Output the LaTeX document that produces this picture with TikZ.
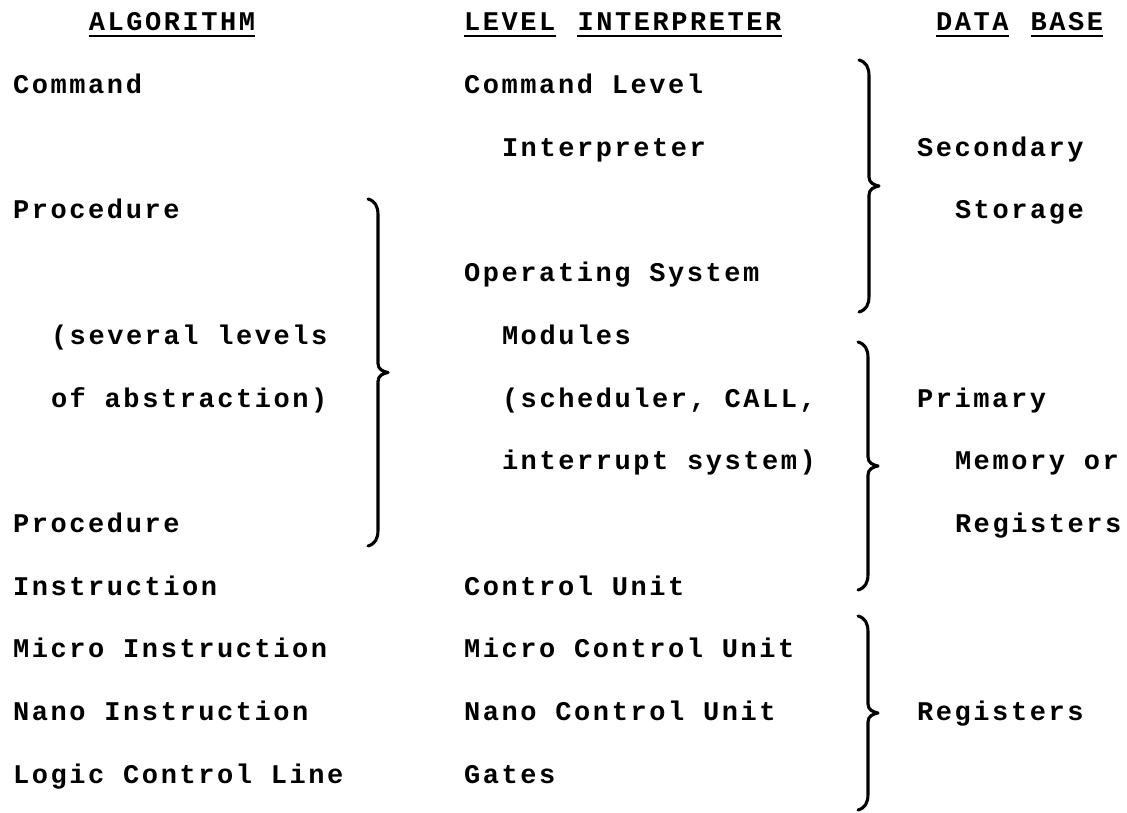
\documentclass[tikz,border=0pt]{standalone}
\usepackage{fontspec}
\newfontfamily\typer[LetterSpace=9.5]{Liberation Mono}

% curly brace opening to the left, tip pointing right
% #1 = x of the stem, #2 = top y, #3 = bottom y (y grows downward)
\newcommand\twbrace[3]{%
  \pgfmathsetmacro\bmid{(#2+#3)/2}%
  \draw[brc] ({#1-10},#2) .. controls ({#1-3},{#2+2}) and (#1,{#2+7}) .. (#1,{#2+16})
    -- (#1,{\bmid-9}) .. controls (#1,{\bmid-3}) and ({#1+5},{\bmid-1}) .. ({#1+10},\bmid)
    .. controls ({#1+5},{\bmid+1}) and (#1,{\bmid+3}) .. (#1,{\bmid+9})
    -- (#1,{#3-16}) .. controls (#1,{#3-7}) and ({#1-3},{#3-2}) .. ({#1-10},#3);%
}

\begin{document}
\begin{tikzpicture}[x=1pt,y=-1pt,
  txt/.style={anchor=base west, inner sep=0pt,
    font=\typer\bfseries\fontsize{27}{32}\selectfont},
  uline/.style={line width=2.4pt},
  brc/.style={line width=3.1pt, line cap=round, line join=round}]

\useasboundingbox[fill=white] (0,0) rectangle (1127,813);

% column headings
\node[txt] (hAlg) at (88.6,31)  {ALGORITHM};
\node[txt] (hLev) at (464,31)   {LEVEL};
\node[txt] (hInt) at (577.4,31) {INTERPRETER};
\node[txt] (hDat) at (936,31)   {DATA};
\node[txt] (hBas) at (1030.5,31){BASE};
\foreach \h in {hAlg,hLev,hInt,hDat,hBas}
  \draw[uline] ([yshift=-5pt]\h.base west) -- ([yshift=-5pt]\h.base east);

% algorithm column
\node[txt] (a0)  at (13,93.5)   {Command};
\node[txt] (a2)  at (13,218.9)  {Procedure};
\node[txt] (a4)  at (50.8,344.3){(several levels};
\node[txt] (a5)  at (50.8,407.0){of abstraction)};
\node[txt] (a7)  at (13,532.4)  {Procedure};
\node[txt] (a8)  at (13,595.1)  {Instruction};
\node[txt] (a9)  at (13,657.8)  {Micro Instruction};
\node[txt] (a10) at (13,720.5)  {Nano Instruction};
\node[txt] (a11) at (13,783.2)  {Logic Control Line};

% level interpreter column
\node[txt] (m0)  at (464,93.5)   {Command Level};
\node[txt] (m1)  at (501.8,156.2){Interpreter};
\node[txt] (m3)  at (464,281.6)  {Operating System};
\node[txt] (m4)  at (501.8,344.3){Modules};
\node[txt] (m5)  at (501.8,407.0){(scheduler, CALL,};
\node[txt] (m6)  at (501.8,469.7){interrupt system)};
\node[txt] (m8)  at (464,595.1)  {Control Unit};
\node[txt] (m9)  at (464,657.8)  {Micro Control Unit};
\node[txt] (m10) at (464,720.5)  {Nano Control Unit};
\node[txt] (m11) at (464,783.2)  {Gates};

% data base column
\node[txt] (d1)  at (917,156.2)  {Secondary};
\node[txt] (d2)  at (954.8,218.9){Storage};
\node[txt] (d5)  at (917,407.0)  {Primary};
\node[txt] (d6)  at (954.8,469.7){Memory or};
\node[txt] (d7)  at (954.8,532.4){Registers};
\node[txt] (d10) at (917,720.5)  {Registers};

% grouping braces
\twbrace{378}{199}{546}
\twbrace{869}{60}{312}
\twbrace{868}{342}{590}
\twbrace{868}{616}{810}

\end{tikzpicture}
\end{document}
